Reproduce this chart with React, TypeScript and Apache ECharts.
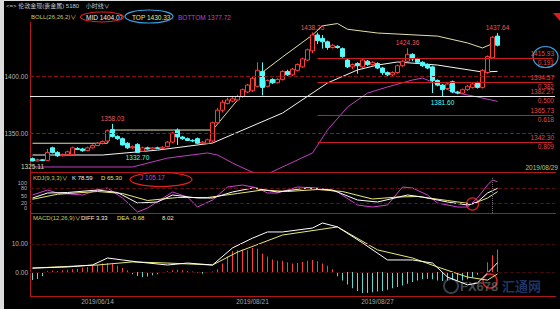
import React, { useEffect, useRef } from "react";
import * as echarts from "echarts";

const SLOTS = 105;

// [open, close, low, high]
const candles: number[][] = [
  [1327.5, 1325.5, 1325.11, 1328.5], [1325.5, 1326.5, 1325.2, 1327.5], [1326.5, 1325.8, 1325.3, 1327.2],
  [1326, 1333, 1325.5, 1336], [1337, 1333, 1332, 1338], [1333, 1330, 1329, 1334],
  [1330, 1331, 1329.5, 1332], [1331, 1333.5, 1330.5, 1334.5], [1331, 1337, 1330, 1338],
  [1336.5, 1335.5, 1335, 1337.5], [1336, 1334.5, 1333.5, 1337], [1334.5, 1337, 1334, 1338],
  [1337, 1339, 1336.5, 1340], [1339, 1341, 1338.5, 1342], [1341, 1342.5, 1340, 1343.5],
  [1343, 1352, 1342, 1353], [1353, 1347, 1346, 1358.03], [1347, 1345, 1344, 1348],
  [1345, 1339.5, 1339, 1346], [1341, 1337, 1336, 1342], [1337, 1338, 1336, 1339],
  [1340, 1333, 1332.7, 1341], [1334, 1337, 1333.5, 1338], [1337, 1336, 1335.5, 1338],
  [1336, 1337, 1335.5, 1337.8], [1337, 1336.5, 1336, 1338], [1336.5, 1337.5, 1336, 1338.5],
  [1338, 1342, 1337.5, 1343], [1342, 1350, 1341, 1351], [1352.5, 1346.5, 1339.5, 1354],
  [1346.5, 1345, 1344, 1347.5], [1345, 1343.5, 1343, 1346], [1343.5, 1343, 1342, 1344.5],
  [1345, 1341, 1340.5, 1346], [1341, 1342, 1340, 1343], [1341, 1344, 1340.5, 1345],
  [1343, 1359, 1341, 1360], [1359, 1370, 1357, 1372], [1370, 1377, 1368, 1379],
  [1376, 1379, 1375, 1381], [1378, 1380, 1377, 1381.5], [1379, 1382, 1378, 1383.5],
  [1382, 1388, 1381, 1389], [1386, 1392, 1385, 1393], [1387, 1398, 1386, 1400],
  [1391, 1405, 1390, 1412], [1404, 1390, 1383, 1412], [1391, 1396, 1390, 1397],
  [1397, 1394, 1393, 1398], [1394, 1397, 1393.5, 1398], [1397, 1404, 1396, 1405],
  [1404, 1401, 1400, 1405.5], [1401, 1406, 1400, 1407], [1405, 1410, 1404, 1411],
  [1408, 1415, 1407, 1416], [1414, 1423, 1413, 1424], [1422, 1436, 1420, 1438.25],
  [1436, 1431, 1428, 1438], [1433, 1430, 1424, 1436], [1430, 1425, 1423, 1431],
  [1425, 1427, 1424, 1428], [1426, 1425, 1424, 1427], [1424, 1417, 1416, 1425],
  [1414, 1408, 1407, 1415], [1408, 1410, 1406, 1411], [1411, 1409, 1402, 1412],
  [1408, 1414, 1407, 1415], [1413, 1410, 1409, 1414], [1410, 1412, 1409, 1413],
  [1411, 1407, 1406, 1412], [1407, 1403, 1401, 1408], [1403, 1401, 1399, 1404],
  [1401, 1403, 1400, 1404], [1403, 1409, 1402, 1410], [1409, 1413, 1408, 1414],
  [1413, 1419, 1412, 1424.36], [1419, 1415, 1413, 1420], [1415, 1412, 1411, 1416],
  [1412, 1409, 1408, 1413], [1410, 1407, 1406, 1411], [1408, 1396, 1385, 1409],
  [1396, 1392, 1391, 1397], [1392, 1388, 1381.6, 1393], [1389, 1393, 1388, 1394],
  [1395, 1386, 1385, 1396], [1386, 1385, 1384, 1387], [1385, 1388, 1384.5, 1389],
  [1388, 1391, 1387, 1392], [1390, 1393, 1389, 1394], [1394, 1390, 1389, 1395],
  [1390, 1405, 1389, 1406], [1403, 1417, 1402, 1418], [1416, 1434, 1415, 1435],
  [1435, 1427, 1426, 1437.64],
];

// Bollinger bands [index, value]
const upperBand = [
  [0, 1341], [15, 1341], [16, 1352.6], [36, 1352.6], [45, 1400], [50, 1416.7], [56, 1436],
  [58, 1444], [61, 1446], [63, 1441], [69, 1437.7], [81, 1435], [87, 1429], [90, 1424.6], [93, 1430.33],
];
const midBand = [
  [0, 1330.7], [14, 1330.7], [25, 1335], [36, 1341.2], [50, 1367.5], [59, 1393.9], [65, 1405.3],
  [69, 1409.6], [73, 1412.3], [81, 1409.6], [90, 1403.5], [93, 1404.07],
];
const lowerBand = [
  [0, 1320.2], [20, 1320.2], [27, 1328], [35, 1332.5], [37, 1330.7], [40, 1323.7], [43, 1317.5],
  [46, 1312], [50, 1320.2], [56, 1332.5], [59, 1352.6], [63, 1372.8], [67, 1385], [71, 1390.4],
  [76, 1396.5], [78, 1398.2], [80, 1394.7], [84, 1386], [89, 1381.6], [93, 1377.72],
];

// KDJ
const kLine = [
  [0, 40], [3, 60], [7, 62], [13, 72], [17, 62], [21, 20], [25, 24], [28, 52], [33, 40], [36, 40],
  [40, 64], [44, 80], [49, 64], [55, 80], [60, 72], [65, 32], [69, 24], [75, 52], [78, 44], [83, 24],
  [87, 12], [89, 24], [91, 60], [93, 78.59],
];
const dLine = [
  [0, 35], [5, 55], [13, 66], [18, 58], [23, 30], [29, 42], [35, 42], [41, 58], [46, 72], [51, 66],
  [57, 74], [62, 66], [68, 36], [73, 44], [77, 46], [83, 30], [88, 16], [91, 40], [93, 65.3],
];
const jLine = [
  [0, 52], [3, 72], [5, 60], [10, 52], [13, 72], [15, 80], [18, 40], [21, -16], [23, 0], [28, 64],
  [31, 44], [33, 4], [36, 32], [39, 84], [42, 92], [45, 80], [47, 60], [49, 60], [53, 84], [57, 80],
  [61, 64], [65, 12], [68, 4], [71, 12], [74, 84], [76, 80], [79, 52], [81, 20], [85, 4], [87, 4],
  [89, 40], [91, 92], [92, 112], [93, 105.17],
];

// MACD
const diffLine = [
  [0, 1.4], [7, 1.8], [12, 2.5], [15, 5.0], [18, 4.3], [21, 3.6], [27, 2.5], [31, 3.2], [36, 2.5],
  [40, 8.6], [44, 12.1], [47, 14.3], [50, 14.3], [56, 15.7], [58, 17.5], [61, 16.1], [66, 10.4],
  [71, 4.3], [76, 4.3], [80, 3.2], [83, -1.8], [87, -4.6], [89, -3.9], [91, -0.4], [93, 3.33],
];
const deaLine = [
  [0, 1.4], [13, 2.5], [20, 3.6], [27, 3.2], [36, 2.5], [41, 7.1], [50, 13.2], [61, 16.1],
  [69, 7.9], [76, 5.0], [81, 1.8], [87, -1.8], [91, -2.9], [93, -0.68],
];
const macdHist = [
  -2.9, -2.5, -1.5,
  0.3, 0.5, 0.4, 0.6,
  0.8, 1.0, 1.2, 1.5, 1.8,
  2.2, 2.6, 3.0, 3.2, 3.0,
  2.2, 1.4, 0.6,
  -0.8, -1.4, -1.8, -1.6, -1.2, -0.8,
  -0.3, 0.3, 0.6, 0.8, 0.6, 0.4, 0.2, -0.2,
  -0.6, -0.4, 0.2,
  1.0, 3.0, 5.5, 7.5, 7.8, 8.0, 7.8, 8.6,
  8.3, 6.5, 5.5, 4.5, 4.0,
  4.0, 3.5, 3.0, 3.2, 3.6, 4.0, 4.3, 3.8, 3.0, 2.2, 1.0,
  -1.5, -3.0, -4.5, -5.8, -6.8, -7.5,
  -7.5, -7.2, -7.0, -6.8, -6.3,
  -5.8, -5.4, -4.8, -4.2, -3.6, -3.0, -2.6,
  -2.4, -2.6, -3.0, -3.2, -3.0, -2.9,
  -3.0, -3.0, -2.6, -2.0, -1.0, -0.4,
  3.5, 6.0, 8.02,
];

const priceTicks = [1400, 1350];
const fibValues = [1415.93, 1394.57, 1382.27, 1365.73, 1342.3];
const fibRatios = ["0.191", "0.382", "0.500", "0.618", "0.809"];
const fibStartIndex = 57;
const whiteLevelIndex = 2;
const extremes = [
  [16, 1358.03], [21, 1332.7], [56, 1438.25], [75, 1424.36], [82, 1381.6], [93, 1437.64], [0, 1325.11],
];
const dateTicks: [number, string][] = [[13, "2019/06/14"], [44, "2019/08/21"], [69, "2019/08/27"]];
const kdjTicks = [100, 80, 50, 20, 0];
const macdTicks = [10, 0];

const FONT = '"Liberation Sans", "Noto Sans CJK SC", sans-serif';
const RED = "#ff3c3c";
const CYAN = "#54fcfc";
const GRID_RED = "#b01818";
const AXIS_TXT = "#b4b4b4";
const CLEAR = "rgba(0,0,0,0)";

function txt(text: string, x: number, y: number, fill: string, size = 6, align = "left") {
  return {
    type: "text",
    x,
    y,
    silent: true,
    style: { text, fill, fontSize: size, fontFamily: FONT, verticalAlign: "middle", align },
  };
}
function ell(cx: number, cy: number, rx: number, ry: number, stroke: string) {
  return {
    type: "ellipse",
    silent: true,
    shape: { cx, cy, rx, ry },
    style: { fill: "none", stroke, lineWidth: 1.2 },
  };
}
function hline(y: number, x1: number, x2: number, stroke: string) {
  return { type: "line", silent: true, shape: { x1, y1: y, x2, y2: y }, style: { stroke, lineWidth: 1 } };
}

export default function App() {
  const ref = useRef<HTMLDivElement>(null);

  useEffect(() => {
    if (!ref.current) return;
    const chart = echarts.init(ref.current, null, { renderer: "svg" });

    const emptyCats = Array.from({ length: SLOTS }, () => "");
    const dateCats = emptyCats.slice();
    dateTicks.forEach(([i, t]) => (dateCats[i] = t));

    const fibLines: any[] = [];
    fibValues.forEach((v, k) => {
      if (k === whiteLevelIndex) {
        fibLines.push({ yAxis: v, lineStyle: { color: "#e8e8e8", width: 1, type: "solid" }, label: { show: false } });
      } else {
        fibLines.push([
          { coord: [fibStartIndex, v], lineStyle: { color: "#c81e1e", width: 1, type: "solid" }, label: { show: false } },
          { coord: [SLOTS - 1, v] },
        ]);
      }
      fibLines.push({
        yAxis: v,
        lineStyle: { color: CLEAR, width: 1 },
        label: { show: true, position: "insideEndTop", formatter: v.toFixed(2), color: "#e04848", fontSize: 6.5, fontFamily: FONT, distance: 1 },
      });
      fibLines.push({
        yAxis: v,
        lineStyle: { color: CLEAR, width: 1 },
        label: { show: true, position: "insideEndBottom", formatter: fibRatios[k], color: "#e04848", fontSize: 6.5, fontFamily: FONT, distance: 1 },
      });
    });

    const priceLines = priceTicks.map((v) => ({
      yAxis: v,
      lineStyle: { color: "#8a1414", type: "dashed", width: 1 },
      label: { show: true, position: "start", formatter: v.toFixed(2), color: AXIS_TXT, fontSize: 6.5, fontFamily: FONT, distance: 2 },
    }));

    const extremePoints = extremes.map(([i, v]) => {
      const isHigh = candles[i][3] === v;
      return {
        coord: [i, v],
        name: v.toFixed(2),
        label: {
          show: true,
          position: isHigh ? "top" : "bottom",
          distance: 2,
          formatter: "{b}",
          color: isHigh ? "#e85a5a" : i === 0 ? "#d8d8a0" : CYAN,
          fontSize: 6.5,
          fontFamily: FONT,
        },
      };
    });

    const xBase = {
      type: "category",
      boundaryGap: true,
      axisLine: { show: false },
      axisTick: { show: false },
      splitLine: { show: false },
    };

    const option: any = {
      animation: false,
      backgroundColor: "#000",
      grid: [
        { left: 30, right: 5, top: 22, height: 150 },
        { left: 30, right: 5, top: 178, height: 35 },
        { left: 30, right: 5, top: 213, height: 83 },
      ],
      xAxis: [
        { ...xBase, gridIndex: 0, data: emptyCats, axisLabel: { show: false } },
        { ...xBase, gridIndex: 1, data: emptyCats, axisLabel: { show: false } },
        {
          ...xBase,
          gridIndex: 2,
          data: dateCats,
          axisLabel: { show: true, interval: 0, color: "#a8a8a8", fontSize: 6.5, fontFamily: FONT, margin: 2 },
        },
      ],
      yAxis: [
        { gridIndex: 0, min: 1315.79, max: 1447.37, show: false, splitLine: { show: false } },
        {
          gridIndex: 1,
          min: -20,
          max: 120,
          interval: 10,
          axisLine: { show: false },
          axisTick: { show: false },
          splitLine: { show: false },
          axisLabel: {
            color: AXIS_TXT,
            fontSize: 5.5,
            fontFamily: FONT,
            margin: 3,
            formatter: (v: number) => (kdjTicks.includes(v) ? String(v) : ""),
          },
        },
        { gridIndex: 2, min: -8.57, max: 21.07, show: false, splitLine: { show: false } },
      ],
      series: [
        {
          type: "candlestick",
          xAxisIndex: 0,
          yAxisIndex: 0,
          data: candles,
          barWidth: 3.6,
          itemStyle: { color: "#000", color0: CYAN, borderColor: RED, borderColor0: CYAN, borderWidth: 1 },
          markLine: { symbol: ["none", "none"], silent: true, animation: false, data: [...priceLines, ...fibLines] },
          markPoint: { symbol: "circle", symbolSize: 0, silent: true, animation: false, data: extremePoints },
          z: 3,
        },
        { type: "line", xAxisIndex: 0, yAxisIndex: 0, data: upperBand, symbol: "none", lineStyle: { color: "#e0e0a8", width: 1 }, z: 2 },
        { type: "line", xAxisIndex: 0, yAxisIndex: 0, data: midBand, symbol: "none", lineStyle: { color: "#f4f4f4", width: 1 }, z: 2 },
        { type: "line", xAxisIndex: 0, yAxisIndex: 0, data: lowerBand, symbol: "none", lineStyle: { color: "#c040c0", width: 1 }, z: 2 },
        {
          type: "line",
          xAxisIndex: 1,
          yAxisIndex: 1,
          data: jLine,
          symbol: "none",
          lineStyle: { color: "#d040d0", width: 1 },
          markLine: {
            symbol: ["none", "none"],
            silent: true,
            animation: false,
            label: { show: false },
            data: [
              { yAxis: 80, lineStyle: { color: "#5a1010", type: "dashed", width: 1 } },
              { yAxis: 20, lineStyle: { color: "#5a1010", type: "dashed", width: 1 } },
              { xAxis: 92, lineStyle: { color: "#707070", type: "dotted", width: 1 } },
            ],
          },
        },
        { type: "line", xAxisIndex: 1, yAxisIndex: 1, data: dLine, symbol: "none", lineStyle: { color: "#e8e870", width: 1 } },
        { type: "line", xAxisIndex: 1, yAxisIndex: 1, data: kLine, symbol: "none", lineStyle: { color: "#ffffff", width: 1 } },
        {
          type: "bar",
          xAxisIndex: 2,
          yAxisIndex: 2,
          barWidth: 1,
          data: macdHist.map((v) => ({ value: v, itemStyle: { color: v >= 0 ? RED : "#5cd8d0" } })),
          markLine: {
            symbol: ["none", "none"],
            silent: true,
            animation: false,
            data: macdTicks.map((v) => ({
              yAxis: v,
              lineStyle: { color: "#3c0a0a", type: "dashed", width: 1 },
              label: { show: true, position: "start", formatter: v.toFixed(2), color: AXIS_TXT, fontSize: 6.5, fontFamily: FONT, distance: 2 },
            })),
          },
        },
        { type: "line", xAxisIndex: 2, yAxisIndex: 2, data: deaLine, symbol: "none", lineStyle: { color: "#e8e870", width: 1 } },
        { type: "line", xAxisIndex: 2, yAxisIndex: 2, data: diffLine, symbol: "none", lineStyle: { color: "#ffffff", width: 1 } },
      ],
      graphic: [
        { type: "rect", silent: true, shape: { x: 0, y: 0, width: 4, height: 309 }, style: { fill: "#dcdcdc" } },
        { type: "rect", silent: true, shape: { x: 0, y: 0, width: 560, height: 1 }, style: { fill: "#dcdcdc" } },
        { type: "line", silent: true, shape: { x1: 30.5, y1: 22, x2: 30.5, y2: 296 }, style: { stroke: GRID_RED, lineWidth: 1 } },
        hline(172.5, 30, 556, GRID_RED),
        hline(213.5, 30, 556, GRID_RED),
        hline(296.5, 30, 556, GRID_RED),
        { type: "polygon", silent: true, shape: { points: [[553, 13], [560, 13], [560, 21]] }, style: { fill: "#d02020" } },
        txt("<=> 伦敦金现(贵金属) 5180    小时线∨", 6, 6, "#c8c8c8", 6),
        txt("BOLL(26,26,2)∨", 31, 17, "#c8c864"),
        txt("MID 1404.07", 86, 17, "#f0f0f0", 6.5),
        txt("TOP 1430.33", 132, 17, "#e8e890", 6.5),
        txt("BOTTOM 1377.72", 178, 17, "#c040c0", 6.5),
        ell(102, 17, 21.5, 5, "#e02020"),
        ell(149, 16.5, 24, 6.5, "#3aa0e0"),
        ell(545.5, 57, 12.5, 10.5, "#3aa0e0"),
        txt("2019/08/29", 558, 167, "#b8c870", 6.5, "right"),
        txt("KDJ(9,3,3)∨", 33, 177.5, "#c8c864"),
        txt("K 78.59", 72, 177.5, "#f0f0f0"),
        txt("D 65.30", 101, 177.5, "#e8e870"),
        txt("J 105.17", 140, 177.5, "#d040d0", 6.5),
        ell(161, 179.5, 31, 7, "#e02020"),
        { type: "circle", silent: true, shape: { cx: 472.5, cy: 204, r: 6 }, style: { fill: "none", stroke: "#e02020", lineWidth: 1.2 } },
        txt("MACD(12,26,9)∨", 33, 217.5, "#c8c864"),
        txt("DIFF 3.33", 81, 217.5, "#f0f0f0"),
        txt("DEA -0.68", 117, 217.5, "#e8e870"),
        txt("8.02", 162, 217.5, "#e8e8c0"),
        { type: "circle", silent: true, shape: { cx: 490, cy: 281, r: 7 }, style: { fill: "none", stroke: "#e02020", lineWidth: 1.5 } },
        { type: "circle", silent: true, shape: { cx: 451, cy: 286, r: 7 }, style: { fill: "none", stroke: "#7080a0", lineWidth: 2, opacity: 0.5 } },
        {
          type: "text",
          silent: true,
          x: 460,
          y: 286,
          style: { text: "FX678", fill: "#8a8a8a", opacity: 0.55, fontSize: 13, fontWeight: "bold", fontFamily: FONT, verticalAlign: "middle" },
        },
        {
          type: "text",
          silent: true,
          x: 502,
          y: 286,
          style: { text: "汇通网", fill: "#3458a8", opacity: 0.6, fontSize: 13, fontWeight: "bold", fontFamily: FONT, verticalAlign: "middle" },
        },
      ],
    };

    chart.setOption(option);
    return () => chart.dispose();
  }, []);

  return (
    <div
      ref={ref}
      style={{ position: "fixed", left: 0, top: 0, width: 560, height: 309, background: "#000" }}
    />
  );
}
